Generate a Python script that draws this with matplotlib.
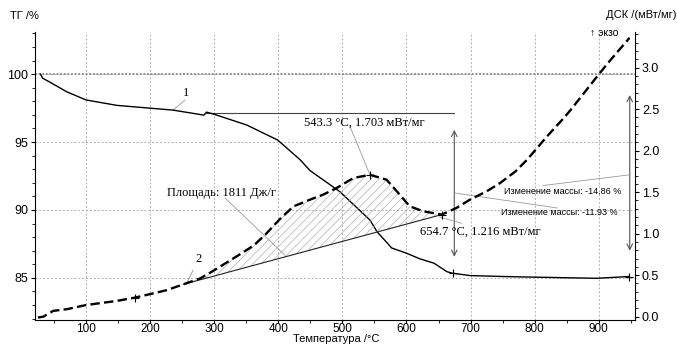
import numpy as np
import matplotlib.pyplot as plt
from matplotlib.ticker import MultipleLocator

plt.rcParams['font.family'] = ['Liberation Sans', 'DejaVu Sans']
plt.rcParams['hatch.linewidth'] = 0.45
SERIF = ['Liberation Serif', 'DejaVu Serif']

# ТГ, %
tg_t = [29, 32.5, 44, 70, 100, 148, 198, 236, 284, 288, 299, 351, 399, 434, 449.5,
        496, 543, 554, 577, 601, 621, 643, 663, 671, 699, 752, 804, 897, 947]
tg_v = [100.0, 99.7, 99.4, 98.7, 98.1, 97.7, 97.5, 97.35, 96.98, 97.2, 97.06, 96.25,
        95.15, 93.7, 92.9, 91.35, 89.26, 88.4, 87.2, 86.8, 86.4, 86.08, 85.46, 85.35,
        85.17, 85.1, 85.05, 84.97, 85.1]

# ДСК, мВт/мг
dsc_t = [25, 33.5, 49, 70, 100, 148, 176.5, 199, 226, 252, 278, 296, 342, 362, 380,
         403, 424, 449.5, 470, 491, 517, 543, 569, 585, 605, 626, 655, 678, 699, 725,
         746, 770, 788, 819, 845, 856, 900, 918, 948]
dsc_v = [-0.01, 0.0, 0.07, 0.09, 0.14, 0.19, 0.23, 0.27, 0.32, 0.39, 0.46, 0.54, 0.76,
         0.86, 0.99, 1.18, 1.33, 1.41, 1.47, 1.55, 1.67, 1.71, 1.65, 1.51, 1.33, 1.27,
         1.23, 1.31, 1.41, 1.51, 1.61, 1.75, 1.89, 2.17, 2.39, 2.49, 2.92, 3.09, 3.36]

# базовая линия пика и отметки
base_t = [252, 655]
base_v = [0.39, 1.23]
dsc_mark_t = [176.5, 543, 655]
dsc_mark_v = [0.23, 1.71, 1.23]
tg_mark_t = [672, 947]
tg_mark_v = [85.35, 85.1]
step_t = [288, 674]
step_v = [97.15, 97.15]

fig = plt.figure(figsize=(6.77, 3.45), dpi=100)
ax = fig.add_axes([35 / 677, 1 - 320 / 345, 600 / 677, 288 / 345])
ax2 = ax.twinx()

ax.set_xlim(20.5, 956.5)
ax.set_ylim(81.9, 103.1)
ax2.set_ylim(-0.04, 3.43)

ax.xaxis.set_major_locator(MultipleLocator(100))
ax.xaxis.set_minor_locator(MultipleLocator(50))
ax.yaxis.set_major_locator(MultipleLocator(5))
ax.yaxis.set_minor_locator(MultipleLocator(1))
ax2.yaxis.set_major_locator(MultipleLocator(0.5))
ax2.yaxis.set_minor_locator(MultipleLocator(0.1))
ax.set_xticks(range(100, 1000, 100))
ax.set_yticks([85, 90, 95, 100])
ax2.set_yticks([0.0, 0.5, 1.0, 1.5, 2.0, 2.5, 3.0])
ax2.yaxis.set_major_formatter(plt.FormatStrFormatter('%.1f'))

for a in (ax, ax2):
    a.spines['top'].set_visible(False)
    a.tick_params(which='major', direction='out', length=3, width=0.8, labelsize=9, pad=2)
    a.tick_params(which='minor', direction='out', length=2, width=0.6)
ax.tick_params(axis='x', which='major', length=2, labelsize=8.5, pad=0.5)
ax.spines['right'].set_visible(False)
ax2.spines['left'].set_visible(False)
ax2.spines['bottom'].set_visible(False)

ax.set_axisbelow(True)
ax.grid(True, which='major', color='#b0b0b0', lw=0.7, ls=(0, (2, 2)))
ax.axhline(100, color='#8a8a8a', lw=1.3, ls=(0, (1, 1)), zorder=1)

# ТГ
ax.plot(tg_t, tg_v, color='black', lw=1.0, zorder=3)
ax.plot(step_t, step_v, color='#444444', lw=0.8)
ax.plot(tg_mark_t, tg_mark_v, '+', color='black', ms=6, mew=0.8)

# площадь пика
i0 = dsc_t.index(base_t[0])
i1 = dsc_t.index(base_t[1])
ax2.fill(dsc_t[i0:i1 + 1], dsc_v[i0:i1 + 1], facecolor='none', edgecolor='#aaaaaa',
         hatch='////', lw=0)
ax2.plot(base_t, base_v, color='#222222', lw=0.8)

# ДСК
ax2.plot(dsc_t, dsc_v, color='black', lw=1.7, ls=(0, (4, 1.8)), zorder=4)
ax2.plot(dsc_mark_t, dsc_mark_v, '+', color='black', ms=6, mew=0.8, zorder=5)

# стрелки изменения массы
arr = dict(arrowstyle='<->', color='#555555', lw=0.8, shrinkA=0, shrinkB=0)
ax.annotate('', xy=(674.6, 95.9), xytext=(674.6, 86.55), arrowprops=arr)
ax.annotate('', xy=(948.3, 98.46), xytext=(948.3, 87.0), arrowprops=arr)

# подписи
lead = dict(color='#999999', lw=0.6)
ax.text(256, 98.6, '1', family=SERIF, fontsize=9, ha='center', va='center')
ax.plot([254.5, 235.8], [98.09, 97.35], **lead)
ax2.text(275, 0.69, '2', family=SERIF, fontsize=9, ha='center', va='center')
ax2.plot([267, 257.6], [0.56, 0.41], **lead)

ax2.text(535, 2.34, '543.3 °C, 1.703 мВт/мг', family=SERIF, fontsize=9,
         ha='center', va='center')
ax2.plot([512, 543], [2.29, 1.71], **lead)
ax2.text(312, 1.49, 'Площадь: 1811 Дж/г', family=SERIF, fontsize=9,
         ha='center', va='center')
ax2.plot([317, 410.5], [1.43, 0.74], **lead)
ax2.text(715, 1.02, '654.7 °C, 1.216 мВт/мг', family=SERIF, fontsize=9,
         ha='center', va='center')
ax2.plot([652, 686], [1.20, 1.125], **lead)

ax2.text(843, 1.51, 'Изменение массы: -14.86 %', fontsize=6.5, ha='center', va='center')
ax2.plot([948.7, 813], [1.71, 1.58], **lead)
ax2.text(838, 1.25, 'Изменение массы: -11.93 %', fontsize=6.5, ha='center', va='center')
ax2.plot([675.7, 835], [1.49, 1.31], **lead)

fig.text(10 / 677, 1 - 16 / 345, 'ТГ /%', fontsize=8, va='center')
fig.text(676 / 677, 1 - 15 / 345, 'ДСК /(мВт/мг)', fontsize=8, ha='right', va='center')
fig.text(590 / 677, 1 - 33 / 345, '↑ экзо', fontsize=7.5, va='center')
fig.text(336 / 677, 1 - 334.5 / 345, 'Температура /°C', fontsize=8, ha='center', va='top')

fig.savefig('out.png', dpi=100)
